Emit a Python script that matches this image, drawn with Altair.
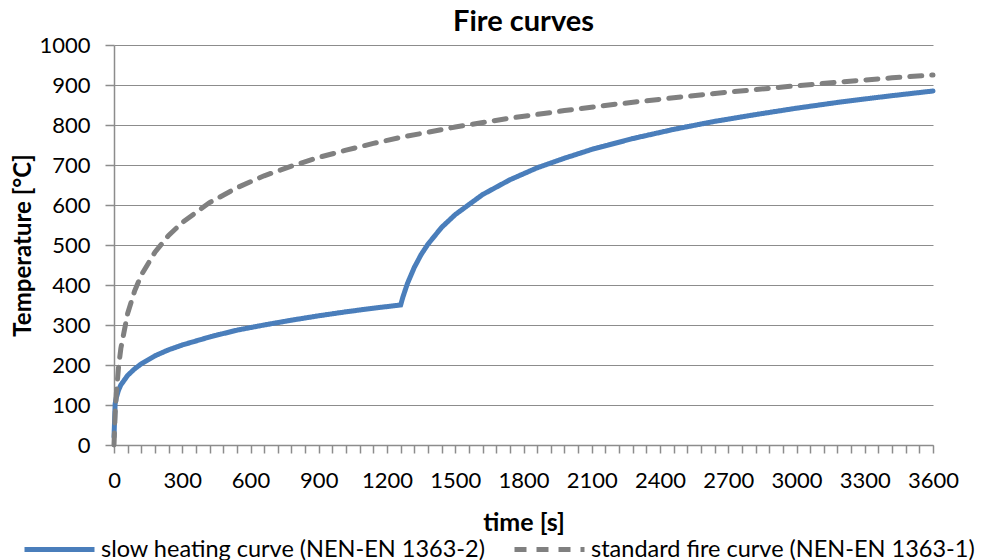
import altair as alt
import pandas as pd

# time [s]
slow_t = [0, 5, 10, 20, 30, 60, 90, 120, 180, 240, 300, 420, 540, 660, 780, 900, 1020, 1140, 1260,
          1270, 1290, 1320, 1350, 1380, 1440, 1500, 1620, 1740, 1860, 1980, 2100, 2280, 2460, 2640,
          2820, 3000, 3200, 3400, 3600]
slow_temp = [20, 103, 118, 137, 150, 174, 190, 203, 223, 238, 250, 270, 287, 300, 312, 323, 333, 342, 350,
             370, 404, 444, 476, 502, 544, 576, 626, 663, 693, 717, 739, 766, 789, 809,
             826, 842, 858, 872, 885]

std_t = [0, 5, 10, 20, 30, 60, 90, 120, 180, 240, 300, 420, 540, 660, 780, 900, 1020, 1140, 1260,
         1500, 1740, 1980, 2220, 2460, 2700, 2940, 3180, 3420, 3600]
std_temp = [0, 77, 127, 195, 241, 329, 384, 425, 482, 524, 556, 606, 643, 673, 697, 719, 737, 754, 769,
            795, 817, 836, 853, 868, 882, 895, 907, 918, 925]

series_names = ["slow heating curve (NEN-EN 1363-2)", "standard fire curve (NEN-EN 1363-1)"]
series_colors = ["#4a7ebb", "#808080"]

x_ticks = list(range(0, 3601, 60))
y_ticks = list(range(0, 1001, 100))

rows = [{"series": series_names[0], "t": t, "temp": v} for t, v in zip(slow_t, slow_temp)]
rows += [{"series": series_names[1], "t": t, "temp": v} for t, v in zip(std_t, std_temp)]
df = pd.DataFrame(rows)

chart = alt.Chart(df).mark_line(strokeWidth=5, strokeCap="round").encode(
    x=alt.X("t:Q", title="time [s]",
            scale=alt.Scale(domain=[0, 3600], nice=False, zero=False),
            axis=alt.Axis(values=x_ticks, format="d",
                          labelExpr="datum.value % 300 == 0 ? datum.label : ''",
                          labelOverlap=False, labelFlush=False, grid=False, tickSize=8,
                          labelPadding=17, titlePadding=19, titleFontSize=25)),
    y=alt.Y("temp:Q", title="Temperature [°C]",
            scale=alt.Scale(domain=[0, 1000], nice=False),
            axis=alt.Axis(values=y_ticks, format="d", grid=True, tickSize=9,
                          labelPadding=15, titlePadding=3, titleFontSize=24)),
    color=alt.Color("series:N", sort=series_names,
                    scale=alt.Scale(domain=series_names, range=series_colors),
                    legend=alt.Legend(title=None, orient="none", direction="horizontal",
                                      legendX=-92, legendY=467,
                                      symbolType="stroke", symbolSize=4900,
                                      symbolStrokeWidth=5, labelFontSize=23.5,
                                      labelLimit=0, labelOffset=4, columnPadding=18,
                                      labelColor="#000000")),
    strokeDash=alt.StrokeDash("series:N", sort=series_names,
                              scale=alt.Scale(domain=series_names, range=[[1, 0], [12, 10]]),
                              legend=None),
    order="t:Q",
).properties(
    width=819, height=400,
    title=alt.Title("Fire curves", fontSize=29, fontWeight="bold", anchor="middle",
                    color="#000000", offset=-3),
    autosize=alt.AutoSizeParams(type="none"),
    padding={"left": 106, "top": 37, "right": 44, "bottom": 115},
).configure(
    font="Lato",
).configure_view(
    stroke=None,
).configure_axis(
    domainColor="#8c8c8c", tickColor="#8c8c8c", gridColor="#8c8c8c",
    domainWidth=1.5, tickWidth=1.5, gridWidth=1,
    labelFontSize=22, labelColor="#000000",
    titleFontWeight="bold", titleColor="#000000",
)

chart.save("out.html", embed_options={"renderer": "svg", "actions": False})
